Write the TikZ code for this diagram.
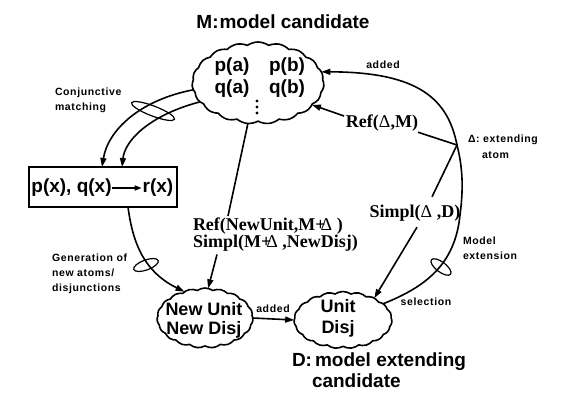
\documentclass[tikz,border=0pt]{standalone}
\usepackage{fontspec}
\setmainfont{Liberation Sans}
\newfontfamily\tms{Liberation Serif}
\newfontfamily\spc[LetterSpace=6]{Liberation Sans}
\usetikzlibrary{shapes.symbols,arrows.meta,calc}
\begin{document}
\begin{tikzpicture}[x=1pt,y=-1pt,
  every node/.style={inner sep=0pt, outer sep=0pt},
  big/.style={font=\fontsize{19}{19}\selectfont\bfseries},
  mid/.style={font=\fontsize{18}{19}\selectfont\bfseries},
  serif/.style={font=\tms\fontsize{18}{17}\selectfont\bfseries},
  small/.style={font=\spc\fontsize{10.5}{15}\selectfont\bfseries},
  puff/.style={draw, line width=1.6pt, cloud, cloud puffs=19, cloud puff arc=70, cloud ignores aspect, inner sep=0pt},
  arr/.style={line width=1.6pt, -{Triangle[length=9pt,width=6pt]}},
  ln/.style={line width=1.6pt},
  loopy/.style={line width=1.2pt},
]
\fill[white] (0,0) rectangle (561,401);
\useasboundingbox (0,0) rectangle (561,401);

% M cloud
\node[big] (Mtitle) at (283,22) {M:\hspace{1pt}model candidate};
\node[puff, minimum width=132pt, minimum height=82pt] (M) at (258,83) {};
\node[big] (pa) at (232,67) {p(a)};
\node[big] (pb) at (287,67) {p(b)};
\node[big] (qa) at (232,89) {q(a)};
\node[big] (qb) at (287,89) {q(b)};
\foreach \yy in {101,107,113} \fill (257,\yy) circle[radius=1.7];

% rule box
\node[draw, line width=1.6pt, minimum width=148pt, minimum height=40pt] (rule) at (103,187) {};
\node[big] (pq) at (71.5,188) {p(x), q(x)};
\node[big] (rx) at (158,188) {r(x)};
\draw[line width=1.5pt, -{Triangle[length=7pt,width=5pt]}, shorten >=1pt] (pq.east) -- (rx.west);

% lower clouds
\node[puff, minimum width=96pt, minimum height=60pt] (NU) at (205,318) {};
\node[mid, align=center] (nut) at (204,320) {New Unit\\New Disj};
\node[puff, minimum width=98pt, minimum height=57pt] (U) at (343,320) {};
\node[font=\fontsize{18}{21}\selectfont\bfseries, align=center] (ut) at (338,318) {Unit\\Disj};
\node[big, anchor=west] (Dt1) at (292,362) {D:\hspace{3pt}model extending};
\node[big, anchor=west] (Dt2) at (312,381) {candidate};

% serif labels
\node[serif, anchor=north west, align=left] (rs) at (193,218) {Ref(NewUnit,M+\kern-5pt{\mdseries Δ}\ )\\Simpl(M+\kern-5pt{\mdseries Δ}\ ,NewDisj)};
\node[serif] (rdm) at (382,123) {Ref({\mdseries Δ},M)};
\node[serif] (sdd) at (415,213) {Simpl({\mdseries Δ}\ ,D)};
\coordinate (delta) at (457,145);

% small labels
\node[small] (added1) at (383,65) {added};
\node[small] (added2) at (273,309) {added};
\node[small] (sel) at (426,302) {selection};
\node[small, anchor=west, align=left] (modext) at (463,248) {Model\\extension};
\node[small, anchor=west, align=left] (conj) at (55,100) {Conjunctive\\matching};
\node[small, anchor=west, align=left] (gen) at (52,274) {Generation of\\new atoms/\\disjunctions};
\node[small, anchor=west] (ext) at (468,140) {Δ: extending};
\node[small, anchor=west] (atom) at (482,155) {atom};

% connectors
\draw[arr] (M.186) .. controls (140,100) and (108,130) .. ($(rule.north)+(-1,0)$);
\draw[arr] (M.198) .. controls (150,115) and (125,140) .. ($(rule.north)+(19,0)$);
\draw[loopy, rotate around={-21:(153,111)}] (153,111) ellipse [x radius=23, y radius=5];

\draw[arr] ($(rule.south)+(25,0)$) .. controls (133,245) and (145,272) .. (NU.128);
\draw[loopy, rotate around={20:(146,265)}] (146,265) ellipse [x radius=13, y radius=5];

\draw[ln] (M.256) -- ($(rs.north west)+(35,-2)$);
\draw[arr] ($(rs.south west)+(24,3)$) -- (NU.84);

\draw[arr] (NU.east) -- (U.west);

\draw[arr] ($(rdm.west)+(-2,-7)$) -- (M.-22);
\draw[ln] ($(rdm.south east)+(0,1)$) -- (delta);
\draw[ln] (delta) -- ($(sdd.north)+(17,-8)$);
\draw[arr] ($(sdd.south)+(2,6)$) -- (U.35);

\draw[arr] (U.22) .. controls (425,287) and (455,265) .. (460,215)
  .. controls (464,185) and (462,165) .. (delta)
  .. controls (448,100) and (420,72) .. (M.10);
\draw[loopy, rotate around={-37:(441,267)}] (441,267) ellipse [x radius=12, y radius=5];
\end{tikzpicture}
\end{document}
